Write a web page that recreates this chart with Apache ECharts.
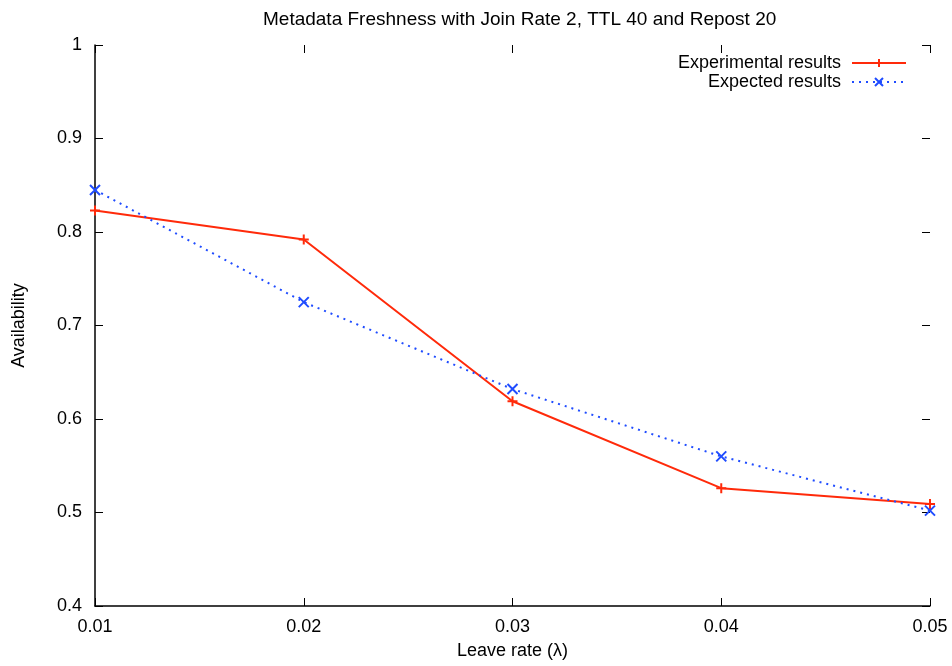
<!DOCTYPE html>
<html>
<head>
<meta charset="utf-8">
<script src="https://cdn.jsdelivr.net/npm/echarts@6/dist/echarts.min.js"></script>
<style>
  html, body { margin: 0; padding: 0; background: #fff; }
  #chart { width: 952px; height: 666px; }
</style>
</head>
<body>
<div id="chart"></div>
<script>
const leaveRates = [0.01, 0.02, 0.03, 0.04, 0.05]
const experimental = [0.823, 0.792, 0.619, 0.526, 0.509]
const expected = [0.845, 0.725, 0.632, 0.560, 0.502]

const red = '#ff2a0a'
const blue = '#1f4cff'
const font = 'Liberation Sans, Arial, Helvetica, sans-serif'

// gnuplot style point markers
const plusPath = 'path://M0,5L10,5M5,0L5,10'
const crossPath = 'path://M0,0L10,10M10,0L0,10'

const tick = { show: true, inside: true, length: 8, lineStyle: { color: '#000', width: 1 } }

const legendText = { fontSize: 18, color: '#000', fontFamily: font, padding: [0, 6, 0, 0] }

const chart = echarts.init(document.getElementById('chart'))

chart.setOption({
  animation: false,
  backgroundColor: '#fff',
  textStyle: { fontFamily: font },
  title: {
    text: 'Metadata Freshness with Join Rate 2, TTL 40 and Repost 20',
    left: 258,
    top: 5,
    textStyle: { fontSize: 19, fontWeight: 'normal', color: '#000', fontFamily: font }
  },
  legend: [
    {
      data: ['Experimental results'],
      right: 40, top: 49, align: 'right',
      itemWidth: 54, itemHeight: 10,
      textStyle: legendText
    },
    {
      data: ['Expected results'],
      right: 40, top: 68, align: 'right',
      itemWidth: 54, itemHeight: 10,
      textStyle: legendText
    }
  ],
  grid: { left: 95, right: 22, top: 45, bottom: 60 },
  xAxis: [
    {
      type: 'value', position: 'bottom',
      min: 0.01, max: 0.05, interval: 0.01,
      name: 'Leave rate (λ)', nameLocation: 'middle', nameGap: 36,
      nameTextStyle: { fontSize: 18, color: '#000' },
      axisLine: { show: true, onZero: false, lineStyle: { color: '#000', width: 1.5 } },
      axisTick: tick,
      splitLine: { show: false },
      axisLabel: { fontSize: 18, color: '#000', margin: 12, formatter: v => v.toFixed(2) }
    },
    {
      type: 'value', position: 'top',
      min: 0.01, max: 0.05, interval: 0.01,
      axisLine: { show: false },
      axisTick: tick,
      splitLine: { show: false },
      axisLabel: { show: false }
    }
  ],
  yAxis: [
    {
      type: 'value', position: 'left',
      min: 0.4, max: 1, interval: 0.1,
      name: 'Availability', nameLocation: 'middle', nameGap: 67, nameRotate: 90,
      nameTextStyle: { fontSize: 18, color: '#000' },
      axisLine: { show: true, onZero: false, lineStyle: { color: '#000', width: 1.5 } },
      axisTick: tick,
      splitLine: { show: false },
      axisLabel: { fontSize: 18, color: '#000', margin: 13, formatter: v => (Math.abs(v - 1) < 1e-9 ? '1' : v.toFixed(1)) }
    },
    {
      type: 'value', position: 'right',
      min: 0.4, max: 1, interval: 0.1,
      axisLine: { show: false },
      axisTick: tick,
      splitLine: { show: false },
      axisLabel: { show: false }
    }
  ],
  series: [
    {
      name: 'Experimental results',
      type: 'line',
      data: leaveRates.map((x, i) => [x, experimental[i]]),
      symbol: plusPath,
      symbolSize: 10,
      showAllSymbol: true,
      lineStyle: { color: red, width: 2 },
      itemStyle: { color: red, borderColor: red, borderWidth: 2 }
    },
    {
      name: 'Expected results',
      type: 'line',
      data: leaveRates.map((x, i) => [x, expected[i]]),
      symbol: crossPath,
      symbolSize: 10,
      showAllSymbol: true,
      lineStyle: { color: blue, width: 2, type: [2, 5] },
      itemStyle: { color: blue, borderColor: blue, borderWidth: 2 }
    }
  ]
})
</script>
</body>
</html>
